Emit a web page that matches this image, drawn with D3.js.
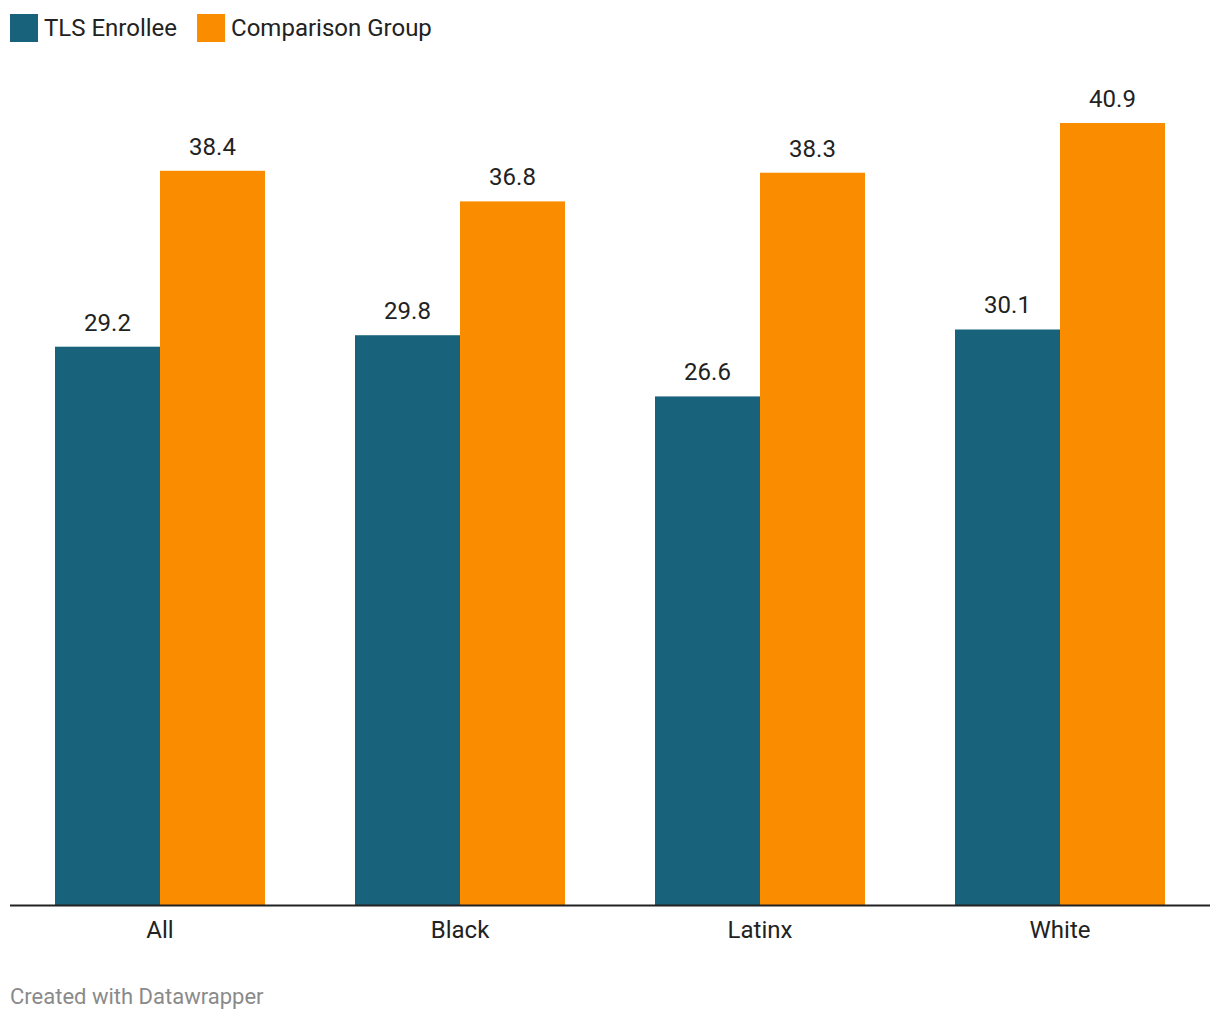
<!DOCTYPE html>
<html><head><meta charset="utf-8">
<script src="https://cdn.jsdelivr.net/npm/d3@7"></script>
<style>body{margin:0;background:#fff;font-family:Roboto,sans-serif;}</style>
</head><body><svg id="c" width="1220" height="1020"></svg>
<script>
const categories = ["All","Black","Latinx","White"];
const seriesNames = ["TLS Enrollee","Comparison Group"];
const tlsValues = [29.2,29.8,26.6,30.1];
const comparisonValues = [38.4,36.8,38.3,40.9];
const colors = ["#18627b","#fa8c00"];

const svg = d3.select("#c");
const baseY = 905;
const x = d3.scaleBand().domain(categories).range([10,1210]).paddingInner(0.3).paddingOuter(0.15);
const x1 = d3.scaleBand().domain(seriesNames).range([0,x.bandwidth()]);
const y = d3.scaleLinear().domain([0,40.9]).range([baseY,123]);

const data = categories.map((c,i)=>({cat:c, vals:[tlsValues[i],comparisonValues[i]]}));

const g = svg.append("g");
data.forEach(d=>{
  d.vals.forEach((v,j)=>{
    const bx = x(d.cat)+x1(seriesNames[j]);
    g.append("rect").attr("x",bx).attr("y",y(v)).attr("width",x1.bandwidth()).attr("height",baseY-y(v)).attr("fill",colors[j]);
    g.append("text").attr("x",bx+x1.bandwidth()/2).attr("y",y(v)-16).attr("text-anchor","middle")
      .attr("font-size",24).attr("fill","#222").text(v.toFixed(1));
  });
});

const xAxis = d3.axisBottom(x).tickSize(0).tickPadding(16);
const ax = svg.append("g").attr("transform",`translate(0,${baseY})`).call(xAxis);
ax.select(".domain").remove();
ax.selectAll("text").attr("font-size",24).attr("fill","#222").attr("font-family","Roboto,sans-serif").attr("dy","0.71em");
svg.append("line").attr("x1",10).attr("x2",1210).attr("y1",baseY+0.5).attr("y2",baseY+0.5).attr("stroke","#222").attr("stroke-width",2);

// legend
const leg = svg.append("g");
let lx = 10;
seriesNames.forEach((s,j)=>{
  leg.append("rect").attr("x",lx).attr("y",14).attr("width",28).attr("height",28).attr("fill",colors[j]);
  const t = leg.append("text").attr("x",lx+34).attr("y",36).attr("font-size",24).attr("fill","#222").text(s);
  lx += 34 + t.node().getComputedTextLength() + 20;
});

svg.append("text").attr("x",10).attr("y",1004).attr("font-size",22).attr("fill","#8a8a8a").text("Created with Datawrapper");
</script></body></html>
